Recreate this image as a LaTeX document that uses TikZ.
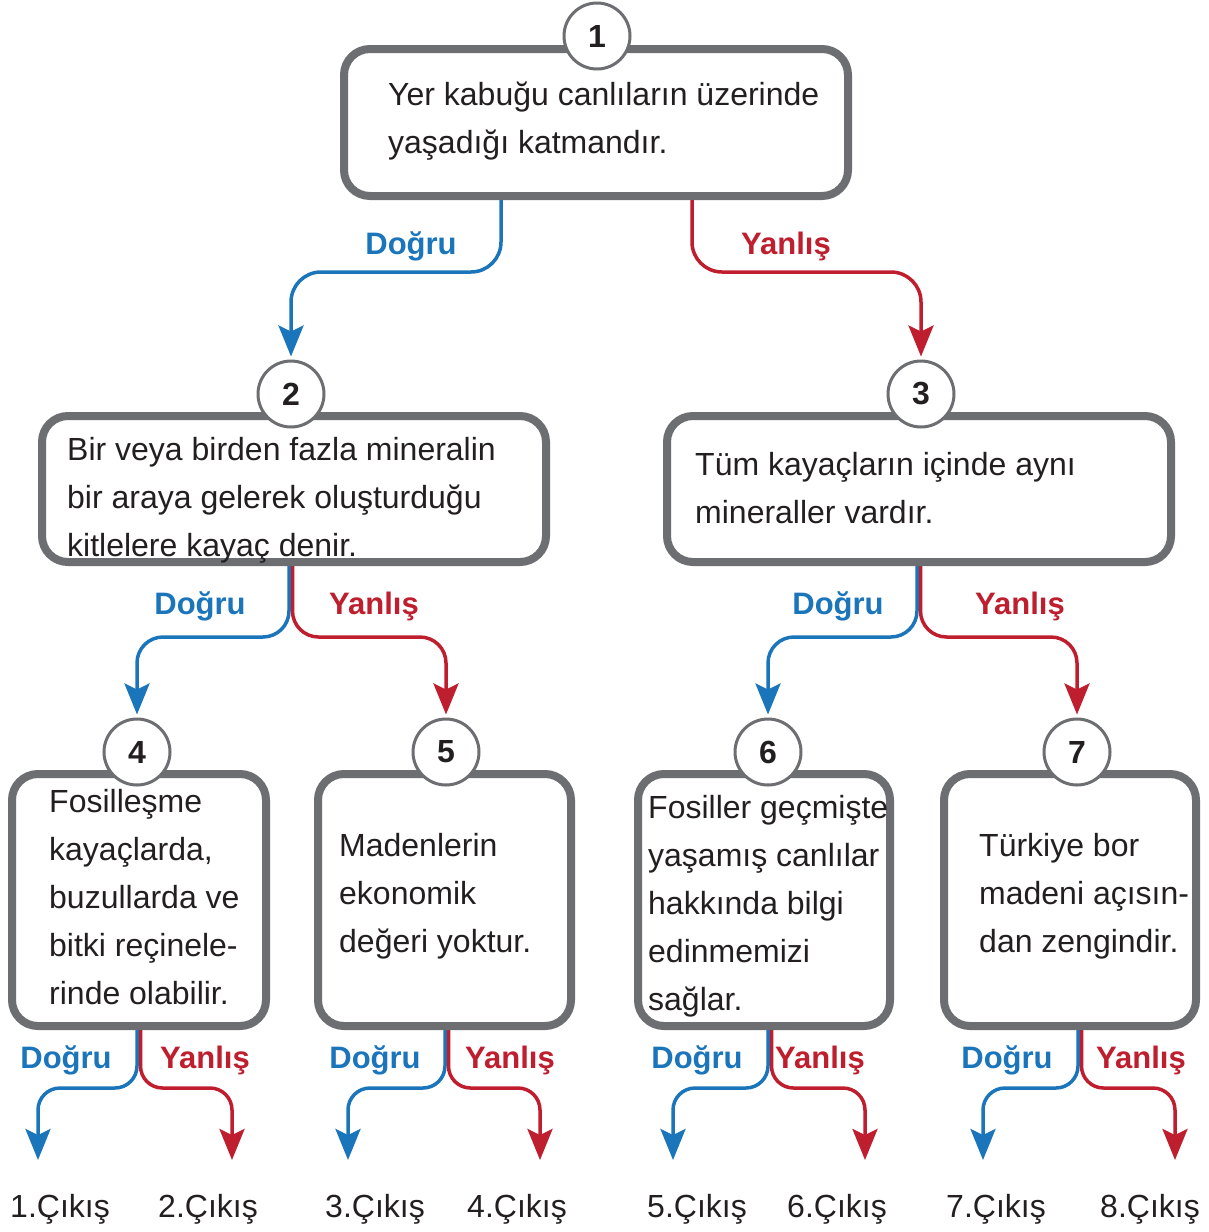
\documentclass[tikz,border=0pt]{standalone}
\usepackage{fontspec}
\setmainfont{Liberation Sans}
\usetikzlibrary{arrows.meta,backgrounds,calc}
\definecolor{dblue}{HTML}{1B75BB}
\definecolor{yred}{HTML}{BE1E2D}
\definecolor{bgray}{HTML}{6D6E71}
\definecolor{tblack}{HTML}{231F20}
\tikzset{
 box/.style={draw=bgray, line width=8pt, rounded corners=26pt, fill=white, inner sep=0pt, outer sep=0pt},
 num/.style={circle, draw=bgray, line width=3pt, fill=white, minimum size=66pt, inner sep=0pt, font=\fontsize{32}{38}\selectfont\bfseries, text=tblack},
 body/.style={anchor=north west, align=left, inner sep=0pt, font=\fontsize{32}{48}\selectfont, text=tblack},
 lab/.style={anchor=base, inner sep=0pt, font=\fontsize{31}{36}\selectfont\bfseries},
 outtext/.style={anchor=base, inner sep=0pt, font=\fontsize{32}{38}\selectfont, text=tblack},
 tip/.style={-{Stealth[length=31pt,width=25pt,inset=6pt]}},
 dog/.style={draw=dblue, line width=3.5pt, tip},
 yan/.style={draw=yred, line width=3.5pt, tip},
}
\begin{document}
\begin{tikzpicture}[x=1pt,y=-1pt]
\useasboundingbox (0,0) rectangle (1208,1232);

% boxes
\node[box, minimum width=504pt, minimum height=147pt] (b1) at (596,122.5) {};
\node[box, minimum width=504pt, minimum height=146pt] (b2) at (294,489) {};
\node[box, minimum width=504pt, minimum height=146pt] (b3) at (919,489) {};
\node[box, minimum width=254pt, minimum height=252pt] (b4) at (139,900) {};
\node[box, minimum width=253pt, minimum height=252pt] (b5) at (444.5,900) {};
\node[box, minimum width=252pt, minimum height=252pt] (b6) at (764,900) {};
\node[box, minimum width=252pt, minimum height=252pt] (b7) at (1070,900) {};

% number circles
\node[num] (c1) at (597,36) {1};
\node[num] (c2) at (291,394) {2};
\node[num] (c3) at (921,394) {3};
\node[num] (c4) at (137,752) {4};
\node[num] (c5) at (446,752) {5};
\node[num] (c6) at (768,752) {6};
\node[num] (c7) at (1077,752) {7};

% texts
\node[body] (t1) at (388,71.4) {\strut Yer kabuğu canlıların üzerinde\\yaşadığı katmandır.};
\node[body] (t2) at (67,426.4) {\strut Bir veya birden fazla mineralin\\bir araya gelerek oluşturduğu\\kitlelere kayaç denir.};
\node[body] (t3) at (695,441.4) {\strut Tüm kayaçların içinde aynı\\mineraller vardır.};
\node[body] (t4) at (49,778.4) {\strut Fosilleşme\\kayaçlarda,\\buzullarda ve\\bitki reçinele-\\rinde olabilir.};
\node[body] (t5) at (339,822.4) {\strut Madenlerin\\ekonomik\\değeri yoktur.};
\node[body] (t6) at (648,784.4) {\strut Fosiller geçmişte\\yaşamış canlılar\\hakkında bilgi\\edinmemizi\\sağlar.};
\node[body] (t7) at (979,822.4) {\strut Türkiye bor\\madeni açısın-\\dan zengindir.};

% free ends of bottom arrows
\coordinate (o1) at (38,1160);
\coordinate (o2) at (232,1160);
\coordinate (o3) at (348,1160);
\coordinate (o4) at (540,1160);
\coordinate (o5) at (673,1160);
\coordinate (o6) at (865,1160);
\coordinate (o7) at (983,1160);
\coordinate (o8) at (1175,1160);

\begin{pgfonlayer}{background}
\fill[white] (0,0) rectangle (1208,1232);
\draw[dog, rounded corners=30pt] ([xshift=-95pt]b1.south) -- ++(0,76) -| ([yshift=3pt]c2.north);
\draw[yan, rounded corners=30pt] ([xshift=96pt]b1.south) -- ++(0,76) -| ([yshift=3pt]c3.north);
\draw[dog, rounded corners=26pt] ([xshift=-5pt]b2.south) -- ++(0,75) -| ([yshift=3pt]c4.north);
\draw[yan, rounded corners=26pt] ([xshift=-1.5pt]b2.south) -- ++(0,75) -| ([yshift=3pt]c5.north);
\draw[dog, rounded corners=26pt] ([xshift=-2pt]b3.south) -- ++(0,75) -| ([yshift=3pt]c6.north);
\draw[yan, rounded corners=26pt] ([xshift=1.5pt]b3.south) -- ++(0,75) -| ([yshift=3pt]c7.north);
\draw[dog, rounded corners=22pt] ([xshift=-2pt]b4.south) -- ++(0,62) -| (o1);
\draw[yan, rounded corners=22pt] ([xshift=1.5pt]b4.south) -- ++(0,62) -| (o2);
\draw[dog, rounded corners=22pt] ([xshift=0.5pt]b5.south) -- ++(0,62) -| (o3);
\draw[yan, rounded corners=22pt] ([xshift=4pt]b5.south) -- ++(0,62) -| (o4);
\draw[dog, rounded corners=22pt] ([xshift=4pt]b6.south) -- ++(0,62) -| (o5);
\draw[yan, rounded corners=22pt] ([xshift=7.5pt]b6.south) -- ++(0,62) -| (o6);
\draw[dog, rounded corners=22pt] ([xshift=8pt]b7.south) -- ++(0,62) -| (o7);
\draw[yan, rounded corners=22pt] ([xshift=11.5pt]b7.south) -- ++(0,62) -| (o8);
\end{pgfonlayer}

% branch labels
\node[lab, text=dblue] (l1d) at (411,254) {Doğru};
\node[lab, text=yred] (l1y) at (786,254) {Yanlış};
\node[lab, text=dblue] (l2d) at (200,614) {Doğru};
\node[lab, text=yred] (l2y) at (374,614) {Yanlış};
\node[lab, text=dblue] (l3d) at (838,614) {Doğru};
\node[lab, text=yred] (l3y) at (1020,614) {Yanlış};
\node[lab, text=dblue] (l4d) at (66,1068) {Doğru};
\node[lab, text=yred] (l4y) at (205,1068) {Yanlış};
\node[lab, text=dblue] (l5d) at (375,1068) {Doğru};
\node[lab, text=yred] (l5y) at (510,1068) {Yanlış};
\node[lab, text=dblue] (l6d) at (697,1068) {Doğru};
\node[lab, text=yred] (l6y) at (820,1068) {Yanlış};
\node[lab, text=dblue] (l7d) at (1007,1068) {Doğru};
\node[lab, text=yred] (l7y) at (1141,1068) {Yanlış};

% outputs
\node[outtext] (e1) at (60,1217) {1.Çıkış};
\node[outtext] (e2) at (208,1217) {2.Çıkış};
\node[outtext] (e3) at (375,1217) {3.Çıkış};
\node[outtext] (e4) at (517,1217) {4.Çıkış};
\node[outtext] (e5) at (697,1217) {5.Çıkış};
\node[outtext] (e6) at (837,1217) {6.Çıkış};
\node[outtext] (e7) at (996,1217) {7.Çıkış};
\node[outtext] (e8) at (1150,1217) {8.Çıkış};
\end{tikzpicture}
\end{document}
